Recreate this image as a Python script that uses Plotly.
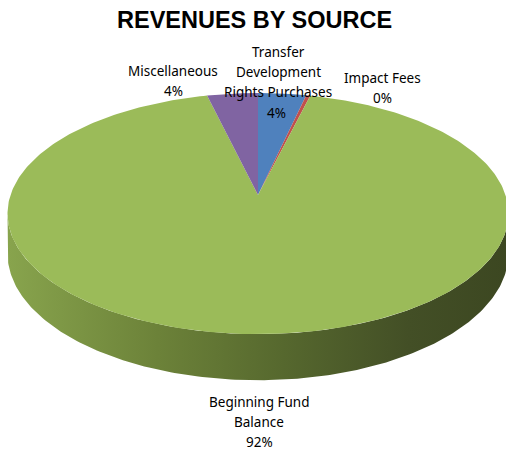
import numpy as np
import plotly.graph_objects as go

# Revenue shares (percent of total)
categories = ["Transfer Development Rights Purchases", "Impact Fees",
              "Beginning Fund Balance", "Miscellaneous"]
values = [3.6, 0.3, 92.3, 3.8]
colors = ["#4F81BD", "#C0504D", "#9BBB59", "#8064A2"]

W, H = 506, 451
# 3D pie geometry (pixel space): apex, radii, perspective factor, depth
CX, CY = 258.0, 195.0
A, B = 247.5, 117.7
K = 0.154
D = 39.0


def project(theta, drop=0.0):
    """Map angle (clockwise from 12 o'clock) on the pie disk to screen."""
    u = np.sin(theta)
    w = -np.cos(theta)
    f = 1.0 / (1.0 - K * w)
    return CX + A * u * f, CY + (B * w + drop) * f


fig = go.Figure()

# Front wall of the pie (visible part between leftmost and rightmost rims)
t0 = np.arccos(-K)
t1 = 2 * np.pi - t0
ts = np.linspace(t0, t1, 200)
xt, yt = project(ts)
xb, yb = project(ts[::-1], D)
fig.add_trace(go.Scatter(
    x=np.concatenate([xt, xb]), y=np.concatenate([yt, yb]),
    mode="lines", fill="toself", line=dict(width=0),
    fillgradient=dict(type="horizontal",
                      colorscale=[[0, "#88A44D"], [0.3, "#6C8239"],
                                  [0.55, "#56682E"], [0.8, "#434F26"],
                                  [1, "#3C4721"]]),
    hoverinfo="skip", showlegend=False))

# Top face slices
total = sum(values)
start = 0.0
for v, c in zip(values, colors):
    span = v / total * 2 * np.pi
    ang = np.linspace(start, start + span, max(int(span * 60), 3))
    xs, ys = project(ang)
    fig.add_trace(go.Scatter(
        x=np.concatenate([[CX], xs, [CX]]), y=np.concatenate([[CY], ys, [CY]]),
        mode="lines", fill="toself", fillcolor=c, line=dict(width=0),
        hoverinfo="skip", showlegend=False))
    start += span

pct = [f"{int(v / total * 100 + 0.5)}%" for v in values]

font = dict(family="Noto Sans, Open Sans, sans-serif", size=13.5, color="#000000")


def label(lines, x, y, step=20):
    for i, t in enumerate(lines):
        fig.add_annotation(x=x, y=y + i * step, text=t, showarrow=False,
                           xanchor="center", yanchor="middle", font=font)


label(["Transfer", "Development", "Rights Purchases"], 278, 52)
label([pct[0]], 276, 113)
label(["Impact Fees", pct[1]], 382, 78)
label(["Beginning Fund", "Balance", pct[2]], 259, 402)
label(["Miscellaneous", pct[3]], 173, 71)

fig.add_annotation(x=254, y=20, text="<b>REVENUES BY SOURCE</b>", showarrow=False,
                   xanchor="center", yanchor="middle",
                   font=dict(family="Liberation Sans, Arial, sans-serif",
                             size=23.5, color="#000000"))

fig.update_layout(
    width=W, height=H, margin=dict(l=0, r=0, t=0, b=0),
    paper_bgcolor="white", plot_bgcolor="white",
    xaxis=dict(range=[0, W], visible=False, fixedrange=True),
    yaxis=dict(range=[H, 0], visible=False, fixedrange=True),
)

fig.write_html("out.html")
